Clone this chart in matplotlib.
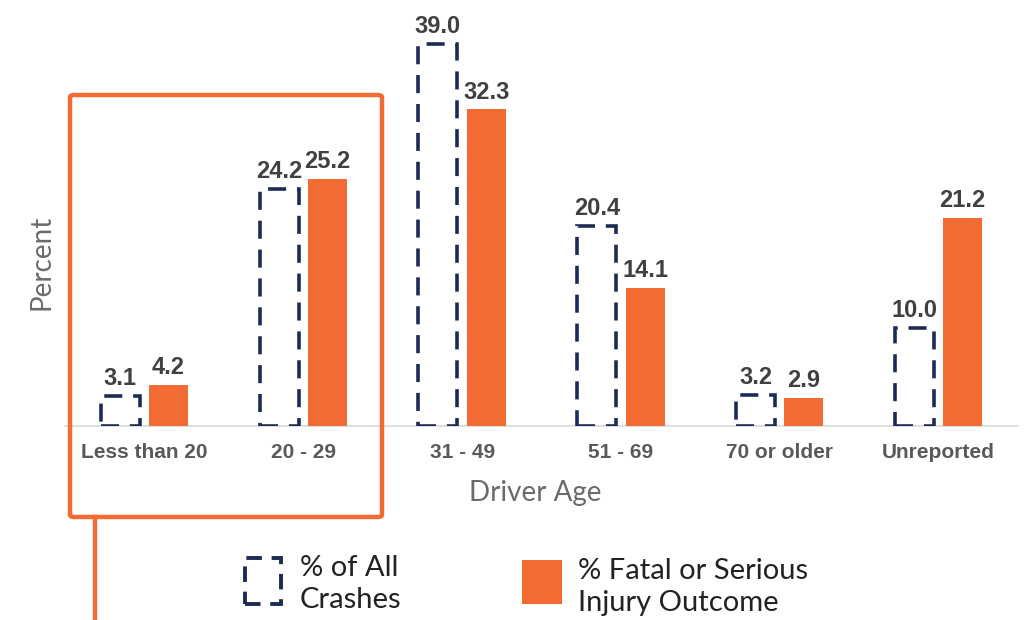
import numpy as np
import matplotlib.pyplot as plt
from matplotlib.patches import Rectangle, FancyBboxPatch
from matplotlib.lines import Line2D

categories = ['Less than 20', '20 - 29', '31 - 49', '51 - 69', '70 or older', 'Unreported']
all_crashes = [3.1, 24.2, 39.0, 20.4, 3.2, 10.0]
fatal_serious = [4.2, 25.2, 32.3, 14.1, 2.9, 21.2]
legend_labels = ['% of All\nCrashes', '% Fatal or Serious\nInjury Outcome']

navy = '#1C2B55'
orange = '#F26B33'
label_gray = '#404040'
tick_gray = '#595959'
title_gray = '#6b6b6b'

num_font = ['Liberation Sans Narrow', 'Liberation Sans', 'DejaVu Sans']
light_font = ['Lato', 'DejaVu Sans']

fig = plt.figure(figsize=(10.29, 6.2), dpi=100)
ax = fig.add_axes([65 / 1029, 194 / 620, 953 / 1029, 426 / 620])

x = np.arange(len(categories))
w = 0.245
off = 0.152

ax.bar(x - off, all_crashes, width=w, facecolor='none', edgecolor=navy,
       linewidth=2.6, linestyle=(0, (5, 3)), zorder=3)
ax.bar(x + off, fatal_serious, width=w, color=orange, zorder=3)

for xi, v in zip(x, all_crashes):
    ax.text(xi - off, v + 0.6, f'{v:.1f}', ha='center', va='bottom',
            fontsize=17, fontweight='bold', color=label_gray, family=num_font)
for xi, v in zip(x, fatal_serious):
    ax.text(xi + off, v + 0.6, f'{v:.1f}', ha='center', va='bottom',
            fontsize=17, fontweight='bold', color=label_gray, family=num_font)

ax.set_xlim(-0.5, len(categories) - 0.5)
ax.set_ylim(0, 43.47)
ax.set_xticks(x)
ax.set_xticklabels(categories, fontsize=15, fontweight='bold', color=tick_gray,
                   family=num_font)
ax.tick_params(axis='x', length=0, pad=12)
ax.set_yticks([])
for s in ['top', 'right', 'left']:
    ax.spines[s].set_visible(False)
ax.spines['bottom'].set_color('#d9d9d9')
ax.spines['bottom'].set_linewidth(1.2)
ax.spines['bottom'].set_zorder(1)

fig.text(535 / 1029, 1 - 493 / 620, 'Driver Age', ha='center', va='center',
         fontsize=20, color=title_gray, family=light_font)
fig.text(42 / 1029, 1 - 262 / 620, 'Percent', ha='center', va='center',
         rotation=90, fontsize=20, color=title_gray, family=light_font)

# highlight box around the first two groups
box = FancyBboxPatch((70 / 1029, 1 - 517 / 620), 312 / 1029, 422 / 620,
                     boxstyle='round,pad=0,rounding_size=0.004',
                     transform=fig.transFigure, facecolor='none',
                     edgecolor=orange, linewidth=3.2, clip_on=False)
fig.patches.append(box)
fig.lines.append(Line2D([95 / 1029, 95 / 1029], [1 - 517 / 620, 0],
                        transform=fig.transFigure, color=orange, linewidth=3.2))

# legend
fig.patches.append(Rectangle((245 / 1029, 1 - 604 / 620), 36 / 1029, 46 / 620,
                             transform=fig.transFigure, facecolor='none',
                             edgecolor=navy, linewidth=2.8, linestyle=(0, (4, 2.5))))
fig.text(300 / 1029, 1 - 584 / 620, legend_labels[0], ha='left', va='center',
         fontsize=21, color='#222222', family=light_font, linespacing=1.3)
fig.patches.append(Rectangle((522 / 1029, 1 - 604 / 620), 40 / 1029, 44 / 620,
                             transform=fig.transFigure, facecolor=orange,
                             edgecolor='none'))
fig.text(578 / 1029, 1 - 587 / 620, legend_labels[1], ha='left', va='center',
         fontsize=21, color='#222222', family=light_font, linespacing=1.3)

fig.savefig('out.png', dpi=100)
